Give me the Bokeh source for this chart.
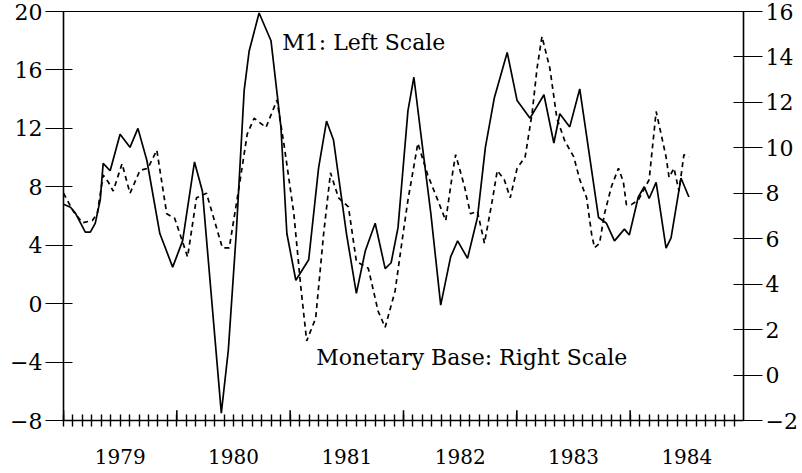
from bokeh.plotting import figure
from bokeh.models import (Range1d, LinearAxis, FixedTicker, CustomJSTickFormatter,
                          Label, ColumnDataSource, Arrow)
from bokeh.embed import file_html
from bokeh.resources import INLINE

# ---- data (months after Jan 1979, growth rates in %) ----
m1_months = [0.0, 0.74, 1.26, 2.31, 2.84, 3.36, 3.89, 4.20, 4.94, 5.99, 7.04, 7.88, 8.83,
             10.20, 11.56, 12.61, 13.87, 14.71, 16.71, 17.45, 18.29, 19.13, 19.66, 20.71,
             21.97, 23.02, 23.65, 24.60, 25.96, 27.01, 27.85, 28.59, 29.96, 31.01, 31.95,
             33.00, 34.06, 34.69, 35.42, 36.47, 37.10, 37.84, 38.89, 39.94, 40.99, 41.73,
             42.78, 43.83, 44.67, 45.62, 46.98, 48.03, 49.40, 50.87, 51.92, 52.55, 53.60,
             54.66, 56.65, 57.49, 58.34, 59.39, 59.91, 60.86, 61.49, 62.01, 62.75, 63.80,
             64.33, 65.38, 66.22]
m1_values = [6.8, 6.6, 6.2, 4.9, 4.9, 5.5, 7.1, 9.6, 9.1, 11.6, 10.7, 12.0, 9.8,
             4.8, 2.5, 4.3, 9.7, 7.7, -7.5, -3.2, 4.8, 14.6, 17.3, 19.9,
             18.0, 12.1, 4.8, 1.6, 3.0, 9.3, 12.5, 11.2, 4.8, 0.7, 3.6,
             5.5, 2.4, 2.8, 5.2, 13.2, 15.5, 11.6, 6.2, -0.1, 3.2, 4.3,
             3.1, 5.9, 10.7, 14.1, 17.2, 13.9, 12.7, 14.3, 11.0, 13.0, 12.1,
             14.7, 5.9, 5.5, 4.3, 5.1, 4.7, 7.3, 8.0, 7.2, 8.3, 3.8,
             4.5, 8.6, 7.3]

mb_months = [0.0, 1.05, 2.00, 3.05, 3.57, 4.20, 4.73, 5.26, 6.20, 7.04, 8.09, 8.93, 9.88,
             10.93, 11.77, 13.14, 14.08, 15.14, 16.82, 17.55, 18.60, 19.45, 20.18, 21.44,
             22.60, 23.33, 24.39, 25.12, 25.75, 26.70, 27.54, 28.27, 29.12, 30.17, 31.01,
             32.27, 33.32, 34.06, 35.11, 35.95, 36.47, 37.52, 38.57, 39.63, 40.47, 41.20,
             41.52, 42.46, 43.09, 43.83, 44.57, 45.41, 45.93, 46.67, 47.30, 48.03, 48.88,
             49.61, 50.14, 50.66, 51.50, 52.24, 53.08, 54.03, 54.66, 55.39, 55.92, 56.23,
             56.76, 57.28, 58.02, 58.76, 59.28, 59.60, 60.12, 60.86, 62.01, 62.43, 62.75,
             63.28, 63.80, 64.12, 64.64, 65.17, 65.69, 66.22]
mb_values = [8.0, 7.2, 6.7, 6.8, 7.1, 8.8, 8.5, 8.1, 9.3, 8.0, 9.0, 9.1, 9.9,
             7.1, 6.9, 5.2, 7.8, 8.0, 5.6, 5.6, 8.3, 10.6, 11.3, 10.9,
             12.1, 10.2, 7.1, 3.9, 1.5, 2.5, 6.2, 8.9, 7.8, 7.4, 5.0,
             4.7, 2.8, 2.1, 3.7, 6.2, 7.7, 10.2, 8.8, 7.7, 6.8, 8.9,
             9.7, 8.3, 7.1, 7.2, 5.8, 7.7, 9.0, 8.6, 7.8, 9.1, 9.6,
             11.5, 13.5, 14.9, 13.5, 11.3, 10.3, 9.6, 8.6, 7.8, 6.2, 5.6,
             5.8, 7.1, 8.3, 9.1, 8.5, 7.5, 7.5, 7.7, 8.6, 10.3, 11.6,
             10.6, 9.6, 8.7, 9.1, 8.1, 9.7, 9.6]

years = [1979, 1980, 1981, 1982, 1983, 1984]
left_ticks = [-8, -4, 0, 4, 8, 12, 16, 20]
right_ticks = [-2, 0, 2, 4, 6, 8, 10, 12, 14, 16]

FONT = "DejaVu Serif"

m1_src = ColumnDataSource(dict(x=[1979 + m / 12 for m in m1_months], y=m1_values))
mb_src = ColumnDataSource(dict(x=[1979 + m / 12 for m in mb_months], y=mb_values))

p = figure(width=800, height=471, output_backend="svg", toolbar_location=None,
           x_range=Range1d(1979, 1985), y_range=Range1d(-8, 20),
           x_axis_location=None, y_axis_location=None,
           min_border_left=63, min_border_right=52, min_border_top=11, min_border_bottom=51)
p.extra_y_ranges = {"right": Range1d(-2, 16)}
p.grid.visible = False
p.background_fill_color = "white"
p.border_fill_color = "white"
p.outline_line_color = "black"
p.outline_line_width = 1

neg_fmt = CustomJSTickFormatter(code="return tick < 0 ? '\\u2212' + Math.abs(tick) : String(tick);")

def style_y(ax, t_in, t_out):
    ax.axis_line_color = "black"
    ax.axis_line_width = 1.6
    ax.major_tick_line_color = "black"
    ax.major_tick_line_width = 1.2
    ax.major_tick_in = t_in
    ax.major_tick_out = t_out
    ax.minor_tick_line_color = None
    ax.major_label_standoff = 3
    ax.major_label_text_font = FONT
    ax.major_label_text_font_size = "22px"
    ax.major_label_text_color = "black"
    ax.formatter = neg_fmt

left_axis = LinearAxis(ticker=FixedTicker(ticks=left_ticks))
style_y(left_axis, 9, 18)
p.add_layout(left_axis, "left")

right_axis = LinearAxis(y_range_name="right", ticker=FixedTicker(ticks=right_ticks))
style_y(right_axis, 10, 19)
p.add_layout(right_axis, "right")

# bottom axis: year labels centred in each year, monthly crossing ticks
month_ticks = [1979 + k / 12 for k in range(0, 72)]
x_axis = LinearAxis(ticker=FixedTicker(ticks=[y + 0.5 for y in years], minor_ticks=month_ticks),
                    formatter=CustomJSTickFormatter(code="return String(Math.floor(tick));"))
x_axis.axis_line_color = "black"
x_axis.axis_line_width = 1.6
x_axis.major_tick_line_color = None
x_axis.major_tick_in = 0
x_axis.major_tick_out = 0
x_axis.minor_tick_line_color = "black"
x_axis.minor_tick_line_width = 1.4
x_axis.minor_tick_in = 6
x_axis.minor_tick_out = 6
x_axis.major_label_standoff = 22
x_axis.major_label_text_font = FONT
x_axis.major_label_text_font_size = "20px"
x_axis.major_label_text_color = "black"
p.add_layout(x_axis, "below")

# long year-boundary ticks crossing the bottom axis
for yr in years:
    p.add_layout(Arrow(end=None, start=None, x_start=yr, x_end=yr, y_start=-7.3, y_end=-9.5,
                       line_color="black", line_width=1.6))

p.line("x", "y", source=m1_src, line_color="black", line_width=1.7)
p.line("x", "y", source=mb_src, y_range_name="right", line_color="black",
       line_width=1.7, line_dash="5 4")

p.add_layout(Label(x=1980.93, y=17.9, text="M1: Left Scale", text_font=FONT,
                   text_font_size="22px", text_color="black", text_baseline="alphabetic"))
p.add_layout(Label(x=1981.23, y=-3.68, text="Monetary Base: Right Scale", text_font=FONT,
                   text_font_size="22px", text_color="black", text_baseline="alphabetic"))

open("out.html", "w").write(file_html(p, INLINE))
